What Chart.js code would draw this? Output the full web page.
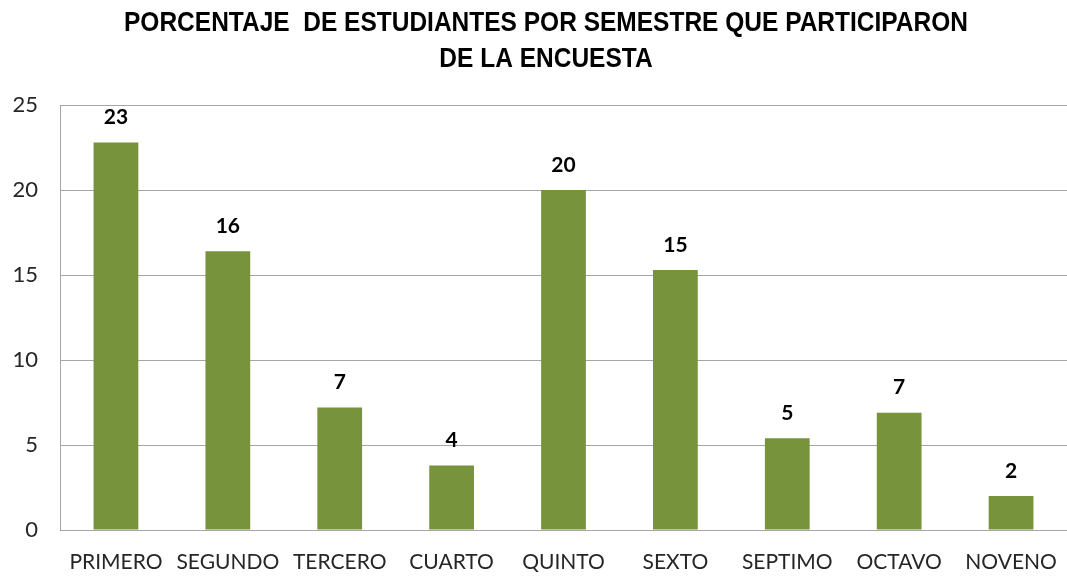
<!DOCTYPE html>
<html>
<head>
<meta charset="utf-8">
<script src="https://cdn.jsdelivr.net/npm/chart.js@4/dist/chart.umd.min.js"></script>
<style>
  html, body { margin: 0; padding: 0; background: #fff; }
  #wrap { width: 1067px; height: 578px; }
</style>
</head>
<body>
<div id="wrap"><canvas id="grafico"></canvas></div>
<script>
// Datos
const semestres = ['PRIMERO', 'SEGUNDO', 'TERCERO', 'CUARTO', 'QUINTO', 'SEXTO', 'SEPTIMO', 'OCTAVO', 'NOVENO'];
const porcentajes = [22.8, 16.4, 7.2, 3.8, 20.0, 15.3, 5.4, 6.9, 2.0];
const ticksY = [0, 5, 10, 15, 20, 25];
const titulo = ['PORCENTAJE  DE ESTUDIANTES POR SEMESTRE QUE PARTICIPARON', 'DE LA ENCUESTA'];

// Titulo en letra estrecha (no hay Arial Narrow, se comprime la Liberation Sans)
const tituloEstrecho = {
  id: 'tituloEstrecho',
  afterDraw(chart) {
    const ctx = chart.ctx;
    ctx.save();
    ctx.font = 'bold 28px "Liberation Sans", Arial, sans-serif';
    ctx.fillStyle = '#000';
    ctx.textAlign = 'center';
    ctx.textBaseline = 'middle';
    const escala = 0.875;
    ctx.scale(escala, 1);
    ctx.fillText(titulo[0], 546 / escala, 23);
    ctx.fillText(titulo[1], 546 / escala, 59);
    ctx.restore();
  }
};

// Etiquetas encima de las barras (valor redondeado)
const etiquetasBarras = {
  id: 'etiquetasBarras',
  afterDatasetsDraw(chart) {
    const ctx = chart.ctx;
    const meta = chart.getDatasetMeta(0);
    ctx.save();
    ctx.font = 'bold 21px Lato, "Open Sans", sans-serif';
    ctx.fillStyle = '#000';
    ctx.textAlign = 'center';
    ctx.textBaseline = 'middle';
    meta.data.forEach((bar, i) => {
      ctx.fillText(Math.round(porcentajes[i]), bar.x, bar.y - 25);
    });
    ctx.restore();
  }
};

new Chart(document.getElementById('grafico'), {
  type: 'bar',
  data: {
    labels: semestres,
    datasets: [{
      data: porcentajes,
      backgroundColor: '#77933C',
      borderWidth: 0,
      barPercentage: 0.8,
      categoryPercentage: 0.5
    }]
  },
  options: {
    responsive: true,
    maintainAspectRatio: false,
    animation: false,
    layout: { padding: { left: 0, right: 0, top: 105, bottom: 0 } },
    plugins: {
      legend: { display: false },
      tooltip: { enabled: false },
      title: { display: false }
    },
    scales: {
      x: {
        grid: { display: false, drawTicks: false },
        border: { display: true, color: '#a6a6a6', width: 1 },
        ticks: {
          color: '#262626',
          font: { family: 'Lato, "Open Sans", sans-serif', size: 21 },
          padding: 20,
          maxRotation: 0,
          autoSkip: false
        },
        afterFit(scale) {
          scale.height = 48;
          scale.paddingLeft = 0;
          scale.paddingRight = 0;
        }
      },
      y: {
        min: 0,
        max: 25,
        afterBuildTicks(scale) { scale.ticks = ticksY.map(v => ({ value: v })); },
        grid: { color: '#a6a6a6', lineWidth: 1, drawTicks: false },
        border: { display: true, color: '#a6a6a6', width: 1 },
        ticks: {
          color: '#262626',
          font: { family: 'Lato, "Open Sans", sans-serif', size: 22 },
          padding: 22
        },
        afterFit(scale) {
          scale.width = 60;
          scale.paddingTop = 0;
          scale.paddingBottom = 0;
        }
      }
    }
  },
  plugins: [etiquetasBarras, tituloEstrecho]
});
</script>
</body>
</html>
